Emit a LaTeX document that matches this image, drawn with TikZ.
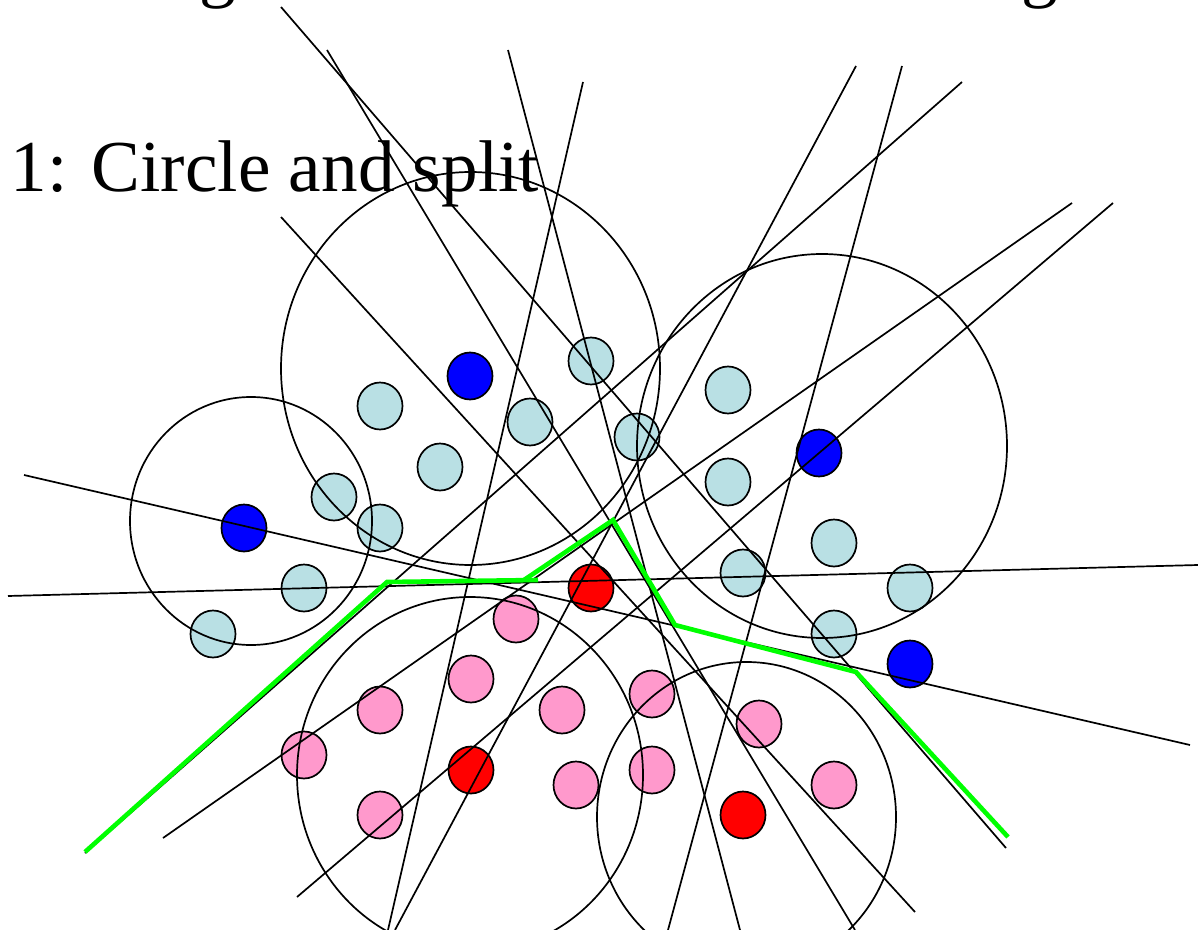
\documentclass[tikz,border=0pt]{standalone}
\usepackage{fontspec}
\setmainfont{Liberation Serif}
\usetikzlibrary{shapes.geometric}
\definecolor{lbfill}{RGB}{185,224,228}
\definecolor{pkfill}{RGB}{255,153,204}
\definecolor{splitgreen}{RGB}{0,255,0}
\begin{document}
\begin{tikzpicture}[x=0.5pt,y=-0.5pt,
  ptdot/.style={ellipse,draw=black,line width=0.85pt,minimum width=22.5pt,minimum height=23.5pt,inner sep=0pt},
  lbdot/.style={ptdot,fill=lbfill},
  bldot/.style={ptdot,fill=blue},
  rddot/.style={ptdot,fill=red},
  pkdot/.style={ptdot,fill=pkfill},
  ring/.style={draw=black,line width=0.85pt},
  sepline/.style={draw=black,line width=0.85pt},
  greenpath/.style={draw=splitgreen,line width=2.3pt,line join=miter},
  bigtext/.style={anchor=base west,inner sep=0pt,font=\fontsize{36.6}{44}\selectfont}]
\useasboundingbox (0,0) rectangle (1198,930);
\fill[white] (0,0) rectangle (1198,930);

% partially visible heading above
\node[bigtext] (g1) at (199,-6) {g};
\node[bigtext] (g2) at (1021,-6) {g};
\node[bigtext] (title) at (10,192) {1: Circle and split};

% light blue points
\node[lbdot] (lb1) at (591,361) {};
\node[lbdot] (lb2) at (380,406) {};
\node[lbdot] (lb3) at (530,422) {};
\node[lbdot] (lb4) at (440,467) {};
\node[lbdot] (lb5) at (637,437) {};
\node[lbdot] (lb6) at (334,497) {};
\node[lbdot] (lb7) at (380,528) {};
\node[lbdot] (lb8) at (304,588) {};
\node[lbdot] (lb9) at (213,634) {};
\node[lbdot] (lb10) at (728,390) {};
\node[lbdot] (lb11) at (728,482) {};
\node[lbdot] (lb12) at (834,543) {};
\node[lbdot] (lb13) at (743,573) {};
\node[lbdot] (lb14) at (910,588) {};
\node[lbdot] (lb15) at (834,634) {};
% blue points
\node[bldot] (bl1) at (470,376) {};
\node[bldot] (bl2) at (244,528) {};
\node[bldot] (bl3) at (819,453) {};
\node[bldot] (bl4) at (910,664) {};
% red points
\node[rddot] (rd1) at (591,588) {};
\node[rddot] (rd2) at (471,770) {};
\node[rddot] (rd3) at (743,815) {};
% pink points
\node[pkdot] (pk1) at (516,619) {};
\node[pkdot] (pk2) at (471,679) {};
\node[pkdot] (pk3) at (380,710) {};
\node[pkdot] (pk4) at (562,710) {};
\node[pkdot] (pk5) at (652,694) {};
\node[pkdot] (pk6) at (304,755) {};
\node[pkdot] (pk7) at (380,815) {};
\node[pkdot] (pk8) at (576,785) {};
\node[pkdot] (pk9) at (652,770) {};
\node[pkdot] (pk10) at (759,724) {};
\node[pkdot] (pk11) at (834,785) {};

% circles
\draw[ring] (470.5,368.5) ellipse [x radius=189.5, y radius=196.5];
\draw[ring] (251,521) ellipse [x radius=121, y radius=124];
\draw[ring] (822,446) ellipse [x radius=185, y radius=192];
\draw[ring] (470,775) ellipse [x radius=173, y radius=178];
\draw[ring] (746.5,817) ellipse [x radius=149.5, y radius=155];

% split lines
\coordinate (a1) at (281,7);    \coordinate (a2) at (1006,848);
\coordinate (b1) at (327,50);   \coordinate (b2) at (855,930);
\coordinate (c1) at (508,50);   \coordinate (c2) at (740,930);
\coordinate (d1) at (583,82);   \coordinate (d2) at (388,930);
\coordinate (e1) at (856,66);   \coordinate (e2) at (395,930);
\coordinate (f1) at (902,66);   \coordinate (f2) at (668,930);
\coordinate (g1c) at (962,82);  \coordinate (g2c) at (85,853);
\coordinate (h1) at (1072,203); \coordinate (h2) at (163,838);
\coordinate (i1) at (1113,203); \coordinate (i2) at (297,897);
\coordinate (j1) at (24,475);   \coordinate (j2) at (1190,745);
\coordinate (k1) at (8,596);    \coordinate (k2) at (1198,565);
\coordinate (l1) at (281,217);  \coordinate (l2) at (915,912);
\foreach \p in {a,b,c,d,e,f,h,i,j,k,l} {\draw[sepline] (\p1) -- (\p2);}
\draw[sepline] (g1c) -- (g2c);

% green separating path
\coordinate (s1) at (85,852);
\coordinate (s2) at (387,582);
\coordinate (s3) at (538,580);
\coordinate (s4) at (524,580);
\coordinate (s5) at (613,520);
\coordinate (s6) at (675,625);
\coordinate (s7) at (856,672);
\coordinate (s8) at (1008,837);
\draw[greenpath] (s1) -- (s2) -- (s3);
\draw[greenpath] (s4) -- (s5) -- (s6) -- (s7) -- (s8);
\end{tikzpicture}
\end{document}
